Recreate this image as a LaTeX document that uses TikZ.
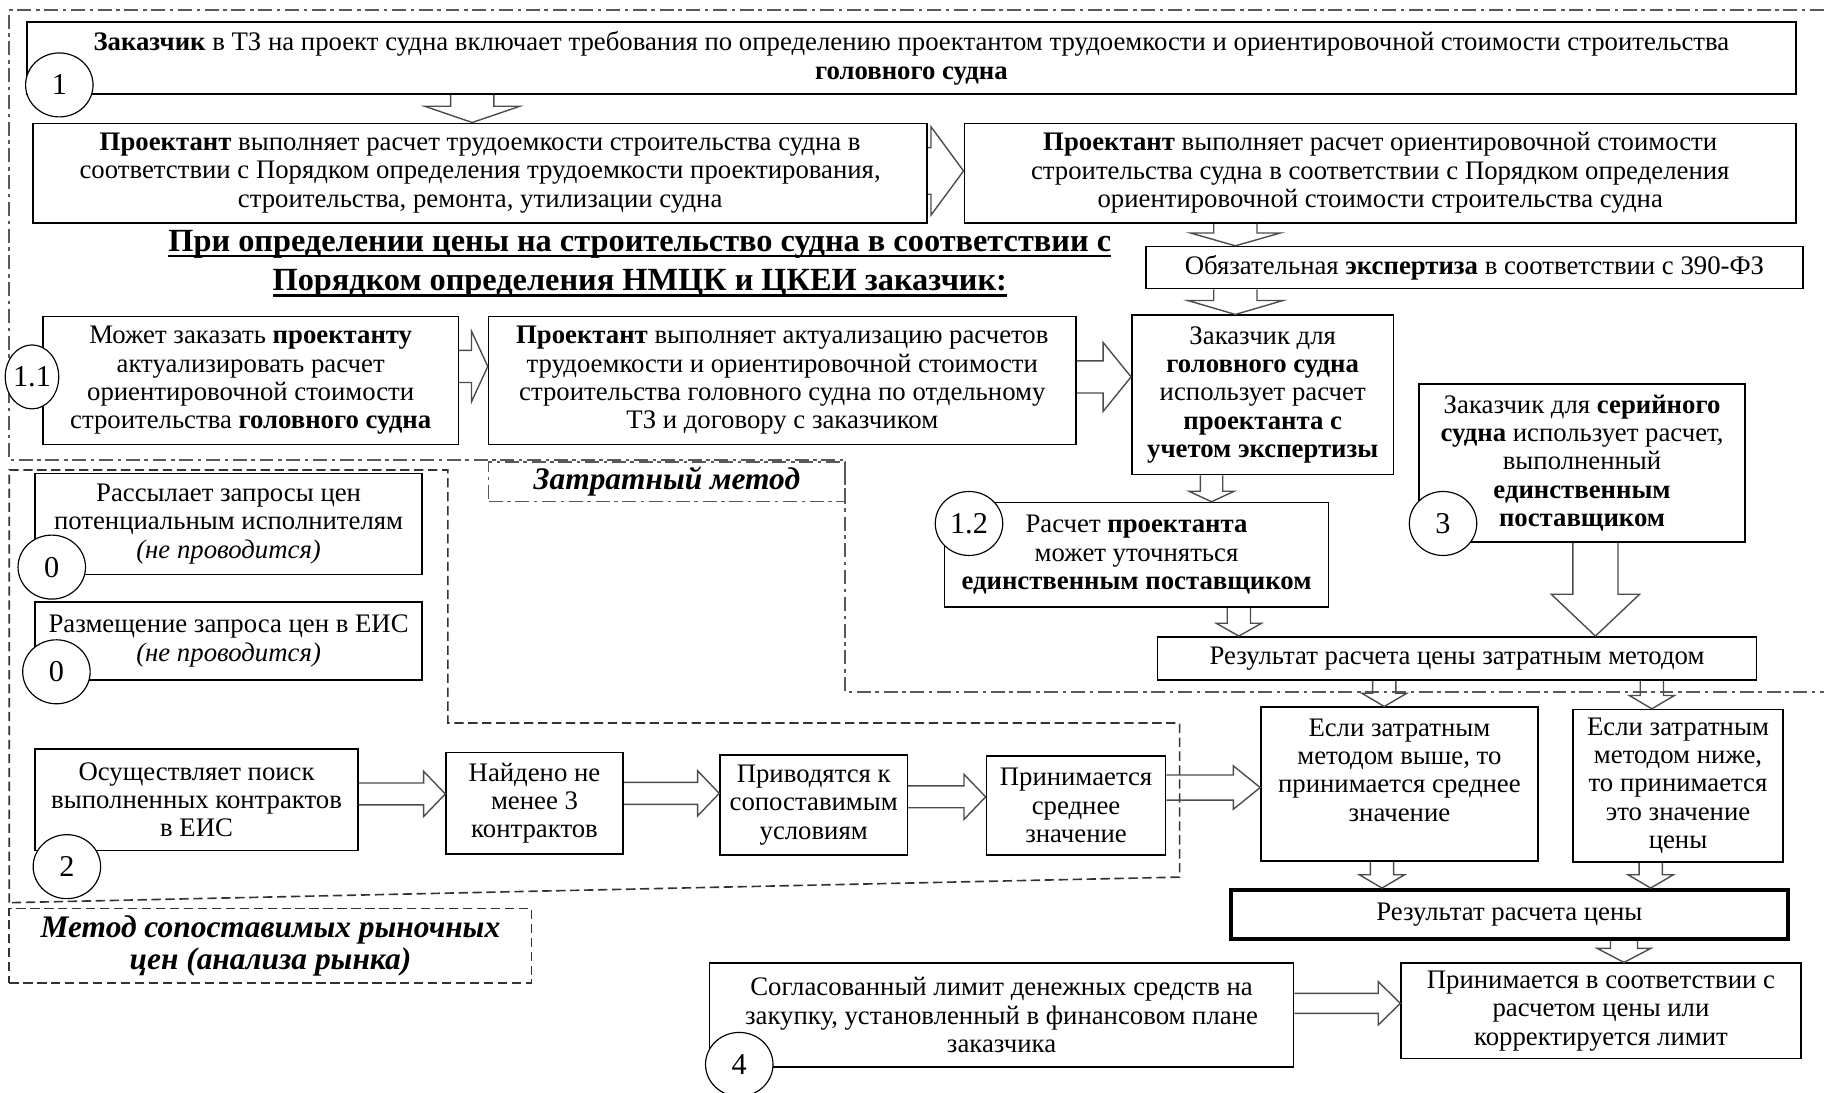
\documentclass[tikz,border=0pt]{standalone}
\usepackage{fontspec}
\setmainfont{Liberation Serif}
\usetikzlibrary{shapes.geometric, calc}

% hollow block arrows: #1 shaft half width, #2 head half width, #3 head length,
% #4 source node, #5 target node, #6 shift of the arrow axis
\newcommand{\downfat}[6]{%
  \draw[fatarrow] let \p1=(#4.south), \p2=(#5.north) in
    (\x2+#6-#1,\y1) -- (\x2+#6-#1,\y2+#3) -- (\x2+#6-#2,\y2+#3) -- (\x2+#6,\y2)
    -- (\x2+#6+#2,\y2+#3) -- (\x2+#6+#1,\y2+#3) -- (\x2+#6+#1,\y1);}
\newcommand{\rightfat}[6]{%
  \draw[fatarrow] let \p1=(#4.east), \p2=(#5.west) in
    (\x1,\y1+#6+#1) -- (\x2-#3,\y1+#6+#1) -- (\x2-#3,\y1+#6+#2) -- (\x2,\y1+#6)
    -- (\x2-#3,\y1+#6-#2) -- (\x2-#3,\y1+#6-#1) -- (\x1,\y1+#6-#1);}
% thick underline for the heading
\newcommand{\thickul}[1]{\setbox0\hbox{#1}\leavevmode\rlap{\rule[-2.6pt]{\wd0}{1.2pt}}\box0}

\begin{document}
\begin{tikzpicture}[x=0.5pt, y=-0.5pt,
    every node/.style={font=\fontsize{11.5}{12.2}\selectfont},
    box/.style={draw, line width=0.7pt, fill=white, align=center, inner sep=1pt},
    num/.style={draw, ellipse, line width=0.5pt, fill=white, inner sep=0pt,
        minimum width=29pt, minimum height=27.5pt, font=\fontsize{13}{13}\selectfont},
    heading/.style={align=center, font=\bfseries\fontsize{13.9}{16}\selectfont},
    tag/.style={align=center, inner sep=1pt, font=\bfseries\itshape\fontsize{13.5}{14}\selectfont},
    fatarrow/.style={draw=black!70, line width=0.6pt},
    costzone/.style={draw=black!65, line width=0.7pt, dash pattern=on 6pt off 2pt on 1.5pt off 2pt},
    marketzone/.style={draw=black!80, line width=0.7pt, dash pattern=on 4pt off 2pt}]
        \useasboundingbox (0,0) rectangle (1568,939);
        % Zones
        \draw[costzone] (1568,8.6) -- (8,8.6) -- (8,395.5) -- (726.5,395.5) -- (726.5,595) -- (1568,595);
        \draw[marketzone] (8,776) -- (8,404) -- (385,404) -- (385,621.5) -- (1014,621.5) -- (1014,754) -- cycle;
        \node[tag, costzone, minimum width=153.25pt, minimum height=17pt] (costTag) at (573.25,414) {Затратный метод};
        \node[tag, marketzone, minimum width=224.5pt, minimum height=32pt] (marketTag) at (232.5,813) {Метод сопоставимых рыночных\\ цен (анализа рынка)};
        % Customer requirements
        \node[box, minimum width=760.5pt, minimum height=31pt] (top) at (783.5,50) {\textbf{Заказчик} в ТЗ на проект судна включает требования по определению проектантом трудоемкости и ориентировочной стоимости строительства\\ \textbf{головного судна}};
        % Designer calculations
        \node[box, minimum width=384.25pt, minimum height=42.75pt] (pTrud) at (412.75,148.75) {\textbf{Проектант} выполняет расчет трудоемкости строительства судна в\\ соответствии с Порядком определения трудоемкости проектирования,\\ строительства, ремонта, утилизации судна};
        \node[box, minimum width=357.5pt, minimum height=42.75pt] (pCost) at (1186.5,148.75) {\textbf{Проектант} выполняет расчет ориентировочной стоимости\\ строительства судна в соответствии с Порядком определения\\ ориентировочной стоимости строительства судна};
        % Heading
        \node[heading] (head) at (550,227) {\thickul{При определении цены на строительство судна в соответствии с}\\[1pt] \thickul{Порядком определения НМЦК и ЦКЕИ заказчик:}};
        % Expertise
        \node[box, minimum width=282.5pt, minimum height=18pt] (exp) at (1267.5,230) {Обязательная \textbf{экспертиза} в соответствии с 390-ФЗ};
        % Lead ship
        \node[box, minimum width=112.5pt, minimum height=68.5pt] (zHead) at (1085.5,339.5) {Заказчик для\\ \textbf{головного судна}\\ использует расчет\\ \textbf{проектанта с}\\ \textbf{учетом экспертизы}};
        \node[box, minimum width=178.5pt, minimum height=55pt] (m11) at (215.5,327) {Может заказать \textbf{проектанту}\\ актуализировать расчет\\ ориентировочной стоимости\\ строительства \textbf{головного судна}};
        \node[box, minimum width=252.5pt, minimum height=55pt] (act) at (672.5,327) {\textbf{Проектант} выполняет актуализацию расчетов\\ трудоемкости и ориентировочной стоимости\\ строительства головного судна по отдельному\\ ТЗ и договору с заказчиком};
        \node[box, minimum width=165pt, minimum height=45pt] (r12) at (977,477) {Расчет \textbf{проектанта}\\ может уточняться\\ \textbf{единственным поставщиком}};
        % Serial ship
        \node[box, minimum width=140pt, minimum height=68pt] (ser) at (1360,398) {Заказчик для \textbf{серийного}\\ \textbf{судна} использует расчет,\\ выполненный\\ \textbf{единственным}\\ \textbf{поставщиком}};
        % Cost method result
        \node[box, minimum width=257.5pt, minimum height=18.5pt] (cost) at (1252.5,566) {Результат расчета цены затратным методом};
        \node[box, minimum width=119pt, minimum height=66pt] (hi) at (1203,674) {Если затратным\\ методом выше, то\\ принимается среднее\\ значение\\ ~};
        \node[box, minimum width=90.5pt, minimum height=65.5pt] (lo) at (1442.5,675.5) {Если затратным\\ методом ниже,\\ то принимается\\ это значение\\ цены};
        % Final price
        \node[box, line width=1.6pt, minimum width=239.5pt, minimum height=21pt] (res) at (1297.5,786) {Результат расчета цены};
        \node[box, minimum width=171.75pt, minimum height=41pt] (acc) at (1376.25,869) {Принимается в соответствии с\\ расчетом цены или\\ корректируется лимит};
        \node[box, minimum width=251pt, minimum height=44.5pt] (lim) at (861,872.5) {Согласованный лимит денежных средств на\\ закупку, установленный в финансовом плане\\ заказчика};
        % Market method
        \node[box, minimum width=166.5pt, minimum height=43.5pt] (q1) at (196.5,450.5) {Рассылает запросы цен\\ потенциальным исполнителям\\ \textit{(не проводится)}};
        \node[box, minimum width=166.5pt, minimum height=33.5pt] (q2) at (196.5,551) {Размещение запроса цен в ЕИС\\ \textit{(не проводится)}};
        \node[box, minimum width=139pt, minimum height=43.5pt] (srch) at (169,687.5) {Осуществляет поиск\\ выполненных контрактов\\ в ЕИС};
        \node[box, minimum width=76pt, minimum height=43.5pt] (found) at (459.5,690.5) {Найдено не\\ менее 3\\ контрактов};
        \node[box, minimum width=80.5pt, minimum height=43pt] (cmp) at (699.5,692) {Приводятся к\\ сопоставимым\\ условиям};
        \node[box, minimum width=77pt, minimum height=42.5pt] (avg) at (925,692.5) {Принимается\\ среднее\\ значение};
        % Arrows
        \downfat{9.3pt}{20.5pt}{7pt}{top}{pTrud}{-3.4pt}
        \rightfat{10pt}{19pt}{14pt}{pTrud}{pCost}{0.9pt}
        \downfat{9.3pt}{19.3pt}{5.5pt}{pCost}{exp}{-102.75pt}
        \downfat{9.3pt}{20.5pt}{6pt}{exp}{zHead}{-11.75pt}
        \rightfat{6.9pt}{15.2pt}{7pt}{m11}{act}{6pt}
        \rightfat{6.9pt}{14.8pt}{12pt}{act}{zHead}{1.5pt}
        \downfat{4.8pt}{9.7pt}{4.5pt}{zHead}{r12}{32.25pt}
        \downfat{5pt}{9.7pt}{5.5pt}{r12}{cost}{-93.75pt}
        \downfat{9.7pt}{19pt}{18pt}{ser}{cost}{59.5pt}
        \downfat{5pt}{9.7pt}{5.7pt}{cost}{hi}{-6.5pt}
        \downfat{5pt}{9.7pt}{5.7pt}{cost}{lo}{-11.25pt}
        \downfat{5pt}{9.7pt}{5.7pt}{hi}{res}{-54.75pt}
        \downfat{5pt}{9.7pt}{5.7pt}{lo}{res}{60.75pt}
        \downfat{5.8pt}{11.5pt}{6pt}{res}{acc}{9.9pt}
        \rightfat{4.3pt}{9.3pt}{9.5pt}{lim}{acc}{5pt}
        \rightfat{4.7pt}{9.7pt}{9.3pt}{srch}{found}{2.5pt}
        \rightfat{4.7pt}{9.7pt}{9.3pt}{found}{cmp}{4.25pt}
        \rightfat{4.7pt}{9.7pt}{9.3pt}{cmp}{avg}{3.5pt}
        \rightfat{5.4pt}{9.3pt}{11.5pt}{avg}{hi}{7.75pt}
        % Step numbers
        \node[num] (n1) at (51,73) {1};
        \node[num, minimum width=23pt] (n11) at (27.5,324) {1.1};
        \node[num] (n12) at (833,450) {1.2};
        \node[num] (n3) at (1240.5,450) {3};
        \node[num] (n0a) at (44.5,487.5) {0};
        \node[num] (n0b) at (48.5,577.5) {0};
        \node[num] (n2) at (57.5,745) {2};
        \node[num] (n4) at (635.5,915) {4};
    \end{tikzpicture}
\end{document}
